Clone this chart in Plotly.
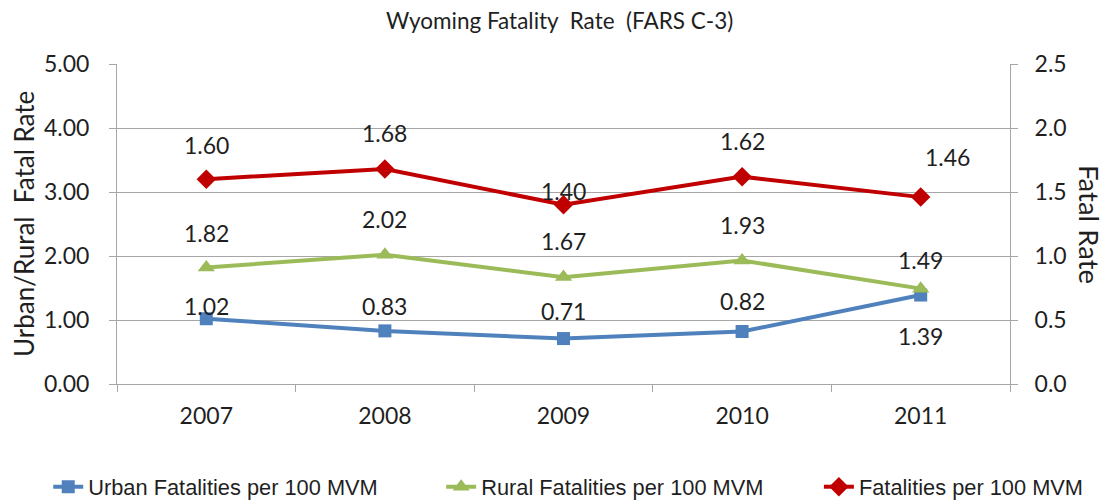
import plotly.graph_objects as go

# --- data ---
years = ["2007", "2008", "2009", "2010", "2011"]
urban_rate = [1.02, 0.83, 0.71, 0.82, 1.39]
rural_rate = [1.82, 2.02, 1.67, 1.93, 1.49]
total_rate = [1.60, 1.68, 1.40, 1.62, 1.46]

COLORS = {
    'urban': '#4F81BD',
    'rural': '#9BBB59',
    'total': '#C00000',
    'grid': '#A6A6A6',
    'text': '#1F1F1F',
}
FONT = "Lato, sans-serif"
LEG_FONT = "Liberation Sans, Arial, sans-serif"

# label offsets in px (style, not data)
urban_shift = [(0, 13), (0, 25), (0, 28), (0, 31), (0, -41)]
rural_shift = [(0, 35), (0, 36), (0, 36), (0, 35), (0, 29)]
total_shift = [(0, 34), (0, 36), (0, 14), (0, 36), (27, 40)]

fig = go.Figure()

fig.add_trace(go.Scatter(
    x=years, y=urban_rate, name="Urban Fatalities per 100 MVM",
    mode="lines+markers", line=dict(color=COLORS['urban'], width=4),
    marker=dict(symbol="square", size=13, color=COLORS['urban']),
    yaxis="y", legend="legend"
))
fig.add_trace(go.Scatter(
    x=years, y=rural_rate, name="Rural Fatalities per 100 MVM",
    mode="lines+markers", line=dict(color=COLORS['rural'], width=4),
    marker=dict(symbol="triangle-up", size=15, color=COLORS['rural']),
    yaxis="y", legend="legend2"
))
fig.add_trace(go.Scatter(
    x=years, y=total_rate, name="Fatalities per 100 MVM",
    mode="lines+markers", line=dict(color=COLORS['total'], width=4),
    marker=dict(symbol="diamond", size=15, color=COLORS['total']),
    yaxis="y2", legend="legend3"
))

annotations = []
for vals, shifts, yref in [(urban_rate, urban_shift, "y"),
                           (rural_rate, rural_shift, "y"),
                           (total_rate, total_shift, "y2")]:
    for i, (v, (dx, dy)) in enumerate(zip(vals, shifts)):
        annotations.append(dict(
            x=i, y=v, xref="x", yref=yref, text=f"{v:.2f}", showarrow=False,
            xshift=dx, yshift=dy, font=dict(size=23, color=COLORS['text'], family=FONT)
        ))

annotations.append(dict(
    x=0.5, y=1.0, xref="paper", yref="paper", yshift=44, xshift=-4,
    xanchor="center", yanchor="middle",
    text="Wyoming Fatality  Rate  (FARS C-3)", showarrow=False,
    font=dict(size=22.5, color=COLORS['text'], family=FONT)
))
annotations.append(dict(
    x=0.0, y=0.5, xref="paper", yref="paper", xshift=-93, xanchor="center", yanchor="middle",
    text="Urban/Rural  Fatal Rate", textangle=-90, showarrow=False,
    font=dict(size=26, color=COLORS['text'], family=FONT)
))
annotations.append(dict(
    x=1.0, y=0.5, xref="paper", yref="paper", xshift=80, xanchor="center", yanchor="middle",
    text="Fatal Rate", textangle=90, showarrow=False,
    font=dict(size=27.5, color=COLORS['text'], family=FONT)
))

def leg(x):
    return dict(orientation="h", x=x, xanchor="left", y=-0.322, yanchor="middle",
                font=dict(size=21.8, color=COLORS['text'], family=LEG_FONT),
                bgcolor="rgba(0,0,0,0)")

# page body adds an 8px offset, so the figure is 8px smaller than the window
fig.update_layout(
    width=1106, height=493,
    margin=dict(l=109, r=104, t=56, b=117, autoexpand=False),
    paper_bgcolor="white", plot_bgcolor="white",
    font=dict(family=FONT, color=COLORS['text']),
    showlegend=True,
    legend=leg(-0.077), legend2=leg(0.363), legend3=leg(0.786),
    xaxis=dict(
        type="category", showgrid=False, showline=True, linecolor=COLORS['grid'], linewidth=1,
        ticks="outside", tickson="boundaries", ticklen=7, tickcolor=COLORS['grid'],
        tickfont=dict(size=23), range=[-0.5, 4.5], ticklabelstandoff=11
    ),
    yaxis=dict(
        range=[0, 5], dtick=1, tickformat=".2f", showgrid=True, gridcolor=COLORS['grid'],
        showline=True, linecolor=COLORS['grid'], ticks="outside", ticklen=7,
        tickcolor=COLORS['grid'], tickfont=dict(size=23), zeroline=False,
        ticklabelstandoff=15
    ),
    yaxis2=dict(
        range=[0, 2.5], dtick=0.5, tickformat=".1f", overlaying="y", side="right",
        showgrid=False, showline=True, linecolor=COLORS['grid'], ticks="outside",
        ticklen=7, tickcolor=COLORS['grid'], tickfont=dict(size=23), zeroline=False,
        ticklabelstandoff=12
    ),
    annotations=annotations,
)

fig.write_html("out.html")
